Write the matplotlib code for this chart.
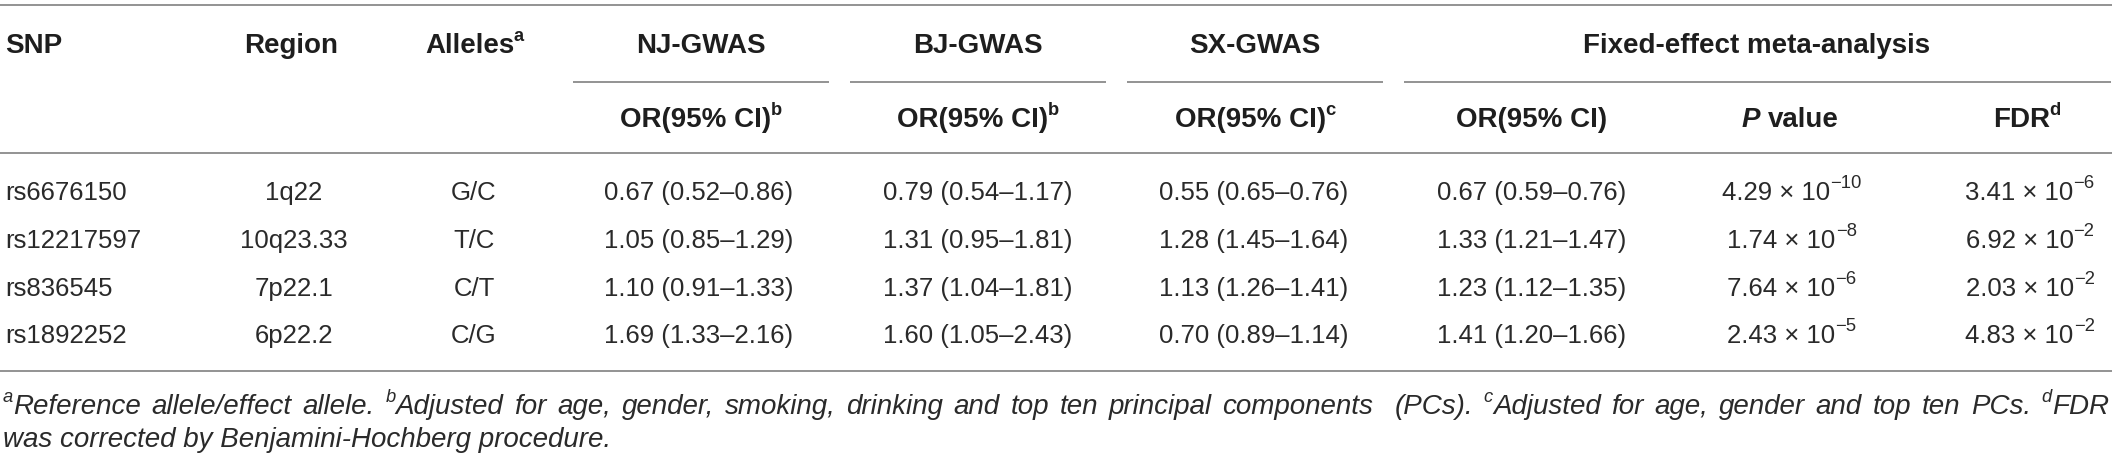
import matplotlib
matplotlib.use("Agg")
import matplotlib.pyplot as plt

# ---------------- data ----------------
snps = ["rs6676150", "rs12217597", "rs836545", "rs1892252"]
regions = ["1q22", "10q23.33", "7p22.1", "6p22.2"]
alleles = ["G/C", "T/C", "C/T", "C/G"]
nj_gwas = ["0.67 (0.52\u20130.86)", "1.05 (0.85\u20131.29)", "1.10 (0.91\u20131.33)", "1.69 (1.33\u20132.16)"]
bj_gwas = ["0.79 (0.54\u20131.17)", "1.31 (0.95\u20131.81)", "1.37 (1.04\u20131.81)", "1.60 (1.05\u20132.43)"]
sx_gwas = ["0.55 (0.65\u20130.76)", "1.28 (1.45\u20131.64)", "1.13 (1.26\u20131.41)", "0.70 (0.89\u20131.14)"]
meta_or = ["0.67 (0.59\u20130.76)", "1.33 (1.21\u20131.47)", "1.23 (1.12\u20131.35)", "1.41 (1.20\u20131.66)"]
p_mant = ["4.29", "1.74", "7.64", "2.43"]
p_exp = ["\u221210", "\u22128", "\u22126", "\u22125"]
fdr_mant = ["3.41", "6.92", "2.03", "4.83"]
fdr_exp = ["\u22126", "\u22122", "\u22122", "\u22122"]

group_headers = ["NJ-GWAS", "BJ-GWAS", "SX-GWAS", "Fixed-effect meta-analysis"]
sub_marks = ["b", "b", "c"]
footnote1 = [("a", "Reference"), "allele/effect", "allele.", ("b", "Adjusted"), "for", "age,",
             "gender,", "smoking,", "drinking", "and", "top", "ten", "principal", "components",
             None, "(PCs).", ("c", "Adjusted"), "for", "age,", "gender", "and", "top", "ten", "PCs.",
             ("d", "FDR")]
footnote2 = "was corrected by Benjamini-Hochberg procedure."

# ---------------- setup ----------------
W, H = 2118, 463
fig = plt.figure(figsize=(W / 100, H / 100), dpi=100)
ax = fig.add_axes([0, 0, 1, 1])
ax.set_xlim(0, W)
ax.set_ylim(H, 0)
ax.axis("off")
renderer = fig.canvas.get_renderer()

FONT = "Liberation Sans"
DATA_PT = 18.5
HEAD_PT = 20
FOOT_PT = 20
TXT = "#2a2a2a"
HEAD = "#1e1e1e"
LINE = "#8a8a8a"
PX = 100 / 72.0


def R(t, size, weight="normal", style="normal", rise=0.0):
    return {"t": t, "size": size, "weight": weight, "style": style, "rise": rise}


def width(run):
    if isinstance(run, (int, float)):
        return float(run)
    t = ax.text(0, 0, run["t"], fontsize=run["size"], fontweight=run["weight"],
                fontstyle=run["style"], family=FONT)
    w = t.get_window_extent(renderer).width
    t.remove()
    return w


def draw_runs(x, y, runs, ha="center", color=TXT):
    ws = [width(r) for r in runs]
    total = sum(ws)
    if ha == "center":
        sx = x - total / 2
    elif ha == "right":
        sx = x - total
    else:
        sx = x
    for r, w in zip(runs, ws):
        if not isinstance(r, (int, float)):
            ax.text(sx, y - r["rise"], r["t"], fontsize=r["size"], fontweight=r["weight"],
                    fontstyle=r["style"], family=FONT, color=color, ha="left", va="baseline")
        sx += w
    return total


def sup_runs(base, mark, size, weight="normal", style="normal"):
    return [R(base, size, weight, style), -1.0,
            R(mark, size * 0.66, weight, style, rise=size * PX * 0.42)]


# ---------------- rules ----------------
X0, X1 = 0, 2112
for y in (5, 153, 371):
    ax.plot([X0, X1], [y, y], color=LINE, lw=1.3, solid_capstyle="butt")
sub_spans = [(573, 829), (850, 1106), (1127, 1383), (1404, 2111)]
for a, b in sub_spans:
    ax.plot([a, b], [82, 82], color=LINE, lw=1.3, solid_capstyle="butt")

# ---------------- header ----------------
hy1, hy2 = 53, 127
draw_runs(5, hy1, [R("SNP", HEAD_PT, "bold")], ha="left", color=HEAD)
draw_runs(291, hy1, [R("Region", HEAD_PT, "bold")], color=HEAD)
draw_runs(474, hy1, sup_runs("Alleles", "a", HEAD_PT, "bold"), color=HEAD)
group_x = [701, 978, 1255, 1757]
for gx, g in zip(group_x, group_headers):
    draw_runs(gx, hy1, [R(g, HEAD_PT, "bold")], color=HEAD)
for gx, m in zip(group_x[:3], sub_marks):
    draw_runs(gx, hy2, sup_runs("OR(95% CI)", m, HEAD_PT, "bold"), color=HEAD)
draw_runs(1532, hy2, [R("OR(95% CI)", HEAD_PT, "bold")], color=HEAD)
draw_runs(1790, hy2, [R("P", HEAD_PT, "bold", "italic"), HEAD_PT * PX * 0.28,
                      R("value", HEAD_PT, "bold")], color=HEAD)
draw_runs(2027, hy2, sup_runs("FDR", "d", HEAD_PT, "bold"), color=HEAD)

# ---------------- body ----------------
row_y = [200, 248, 296, 343]
col_x = {"region": 294, "allele": 474, "nj": 699, "bj": 978, "sx": 1254,
         "meta": 1532, "p": 1792, "fdr": 2030}


def sci_runs(m, e):
    return [R(m + " \u00d7 10", DATA_PT), 0.0,
            R(e, DATA_PT * 0.72, rise=DATA_PT * PX * 0.45)]


for i, y in enumerate(row_y):
    draw_runs(5, y, [R(snps[i], DATA_PT)], ha="left")
    draw_runs(col_x["region"], y, [R(regions[i], DATA_PT)])
    draw_runs(col_x["allele"], y, [R(alleles[i], DATA_PT)])
    draw_runs(col_x["nj"], y, [R(nj_gwas[i], DATA_PT)])
    draw_runs(col_x["bj"], y, [R(bj_gwas[i], DATA_PT)])
    draw_runs(col_x["sx"], y, [R(sx_gwas[i], DATA_PT)])
    draw_runs(col_x["meta"], y, [R(meta_or[i], DATA_PT)])
    draw_runs(col_x["p"], y, sci_runs(p_mant[i], p_exp[i]))
    draw_runs(col_x["fdr"], y, sci_runs(fdr_mant[i], fdr_exp[i]))

# ---------------- footnotes ----------------
fy1, fy2 = 414, 447
L, Rt = 3, 2109
words = []
for tok in footnote1:
    if tok is None:
        words.append(None)
        continue
    if isinstance(tok, tuple):
        mark, w = tok
        words.append([R(mark, FOOT_PT * 0.66, style="italic", rise=FOOT_PT * PX * 0.42), 0.0,
                      R(w, FOOT_PT, style="italic")])
    else:
        words.append([R(tok, FOOT_PT, style="italic")])
real = [w for w in words if w is not None]
wwidths = [sum(width(r) for r in w) for w in real]
ngaps = len(real) - 1 + sum(1 for w in words if w is None)
gap = (Rt - L - sum(wwidths)) / ngaps
xx = L
first = True
for w in words:
    if w is None:
        xx += gap
        continue
    if not first:
        xx += gap
    first = False
    xx += draw_runs(xx, fy1, w, ha="left", color=TXT)

draw_runs(L, fy2, [R(footnote2, FOOT_PT, style="italic")], ha="left", color=TXT)

fig.savefig("out.png", dpi=100, facecolor="white")
